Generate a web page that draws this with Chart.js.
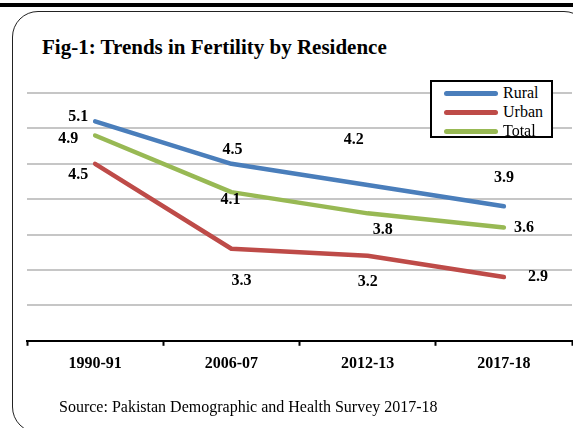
<!DOCTYPE html>
<html>
<head>
<meta charset="utf-8">
<title>Trends in Fertility by Residence</title>
<script src="https://cdn.jsdelivr.net/npm/chart.js@4.4.1/dist/chart.umd.min.js"></script>
<style>
    body { margin: 0; background: #fff; }
    #lienzo { position: relative; width: 573px; height: 428px; overflow: hidden; font-family: "Liberation Serif", "Times New Roman", serif; color: #000; }
    #lienzo canvas { position: absolute; left: 0; top: 0; }
    .regla { position: absolute; left: 0; top: 3px; width: 573px; height: 4px; background: #000; }
    .marco { position: absolute; left: 12px; top: 11px; width: 578px; height: 422px; border: 1.5px solid #222; border-radius: 26px; box-sizing: border-box; }
    .titulo { position: absolute; left: 42px; top: 35px; font-size: 21px; line-height: 24px; font-weight: bold; white-space: nowrap; }
    .fuente { position: absolute; left: 59px; top: 398px; font-size: 16px; line-height: 18px; white-space: nowrap; }
    .leyenda { position: absolute; left: 430px; top: 80px; width: 123px; height: 58px; border: 2px solid #000; background: #fff; box-sizing: border-box; }
    .leyenda div { position: absolute; left: 0; height: 18px; line-height: 18px; font-size: 16px; white-space: nowrap; }
    .leyenda span { position: absolute; top: 7px; left: 12px; width: 54px; height: 5px; border-radius: 3px; }
    .leyenda b { position: absolute; left: 71px; font-weight: normal; }
</style>
</head>
<body>
<div id="lienzo">
    <div class="regla"></div>
    <div class="marco"></div>
    <div class="titulo">Fig-1: Trends in Fertility by Residence</div>
    <canvas id="graficoFecundidad" width="573" height="428"></canvas>
    <div class="leyenda" id="leyenda"></div>
    <div class="fuente">Source: Pakistan Demographic and Health Survey 2017-18</div>
</div>
<script>
// survey rounds and total fertility rate per residence
var anios = ['1990-91', '2006-07', '2012-13', '2017-18'];
var rural = [5.1, 4.5, 4.2, 3.9];
var urbano = [4.5, 3.3, 3.2, 2.9];
var total = [4.9, 4.1, 3.8, 3.6];

var series = ['Rural', 'Urban', 'Total'];
var colores = ['#4a7ebb', '#be4b48', '#98b954'];

var yMin = 2, yMax = 5.5;
var fuente = '"Liberation Serif", "Times New Roman", serif';

// where each value label sits relative to its point [dx, dy]
var desplazamientos = [
    [[-17, -4], [1, -14], [-14, -45], [0, -28]],
    [[-17, 11], [10, 32], [0, 26], [34, 0]],
    [[-27, 3], [-1, 8], [15, 16], [20, 0]]
];

// draws the value next to every point
var etiquetas = {
    id: 'etiquetas',
    afterDatasetsDraw: function (chart, args, opts) {
        var ctx = chart.ctx;
        ctx.save();
        ctx.font = 'bold 16px ' + fuente;
        ctx.fillStyle = '#000';
        ctx.textAlign = 'center';
        ctx.textBaseline = 'middle';
        chart.data.datasets.forEach(function (ds, i) {
            chart.getDatasetMeta(i).data.forEach(function (pt, j) {
                var d = opts.offsets[i][j];
                ctx.fillText(ds.data[j].toFixed(1), pt.x + d[0], pt.y + d[1]);
            });
        });
        ctx.restore();
    }
};

function graficoFecundidad() {

    var ctx = document.getElementById('graficoFecundidad').getContext('2d');
    var valores = [rural, urbano, total];

    var chart = new Chart(ctx, {
        // The type of chart we want to create
        type: 'line',

        // The data for our dataset
        data: {
            labels: anios,
            datasets: series.map(function (nombre, i) {
                return {
                    label: nombre,
                    data: valores[i],
                    borderColor: colores[i],
                    backgroundColor: colores[i],
                    borderWidth: 4.5,
                    borderJoinStyle: 'round',
                    borderCapStyle: 'round',
                    pointRadius: 0,
                    tension: 0,
                    fill: false
                };
            })
        },

        // Configuration options go here
        options: {
            responsive: false,
            animation: false,
            layout: {
                padding: { left: 27, top: 93, right: 1, bottom: 47 }
            },
            scales: {
                x: {
                    offset: true,
                    grid: { offset: true, drawOnChartArea: false, color: '#000', tickLength: 5, tickWidth: 2 },
                    border: { color: '#000', width: 2 },
                    ticks: { color: '#000', padding: 8, font: { family: fuente, size: 16, weight: 'bold' } }
                },
                y: {
                    min: yMin,
                    max: yMax,
                    ticks: { stepSize: 0.5, display: false },
                    border: { display: false },
                    grid: {
                        drawTicks: false,
                        lineWidth: 2,
                        color: function (c) {
                            return c.tick && c.tick.value === yMin ? 'rgba(0,0,0,0)' : '#c6c6c6';
                        }
                    }
                }
            },
            plugins: {
                legend: { display: false },
                tooltip: { enabled: false },
                etiquetas: { offsets: desplazamientos }
            }
        },
        plugins: [etiquetas]
    });

    // legend box built from the same series
    var caja = document.getElementById('leyenda');
    series.forEach(function (nombre, i) {
        var fila = document.createElement('div');
        fila.style.top = (2 + i * 19) + 'px';
        fila.style.width = '119px';
        fila.innerHTML = '<span style="background:' + colores[i] + '"></span><b>' + nombre + '</b>';
        caja.appendChild(fila);
    });

}//graficoFecundidad()

graficoFecundidad();
</script>
</body>
</html>
